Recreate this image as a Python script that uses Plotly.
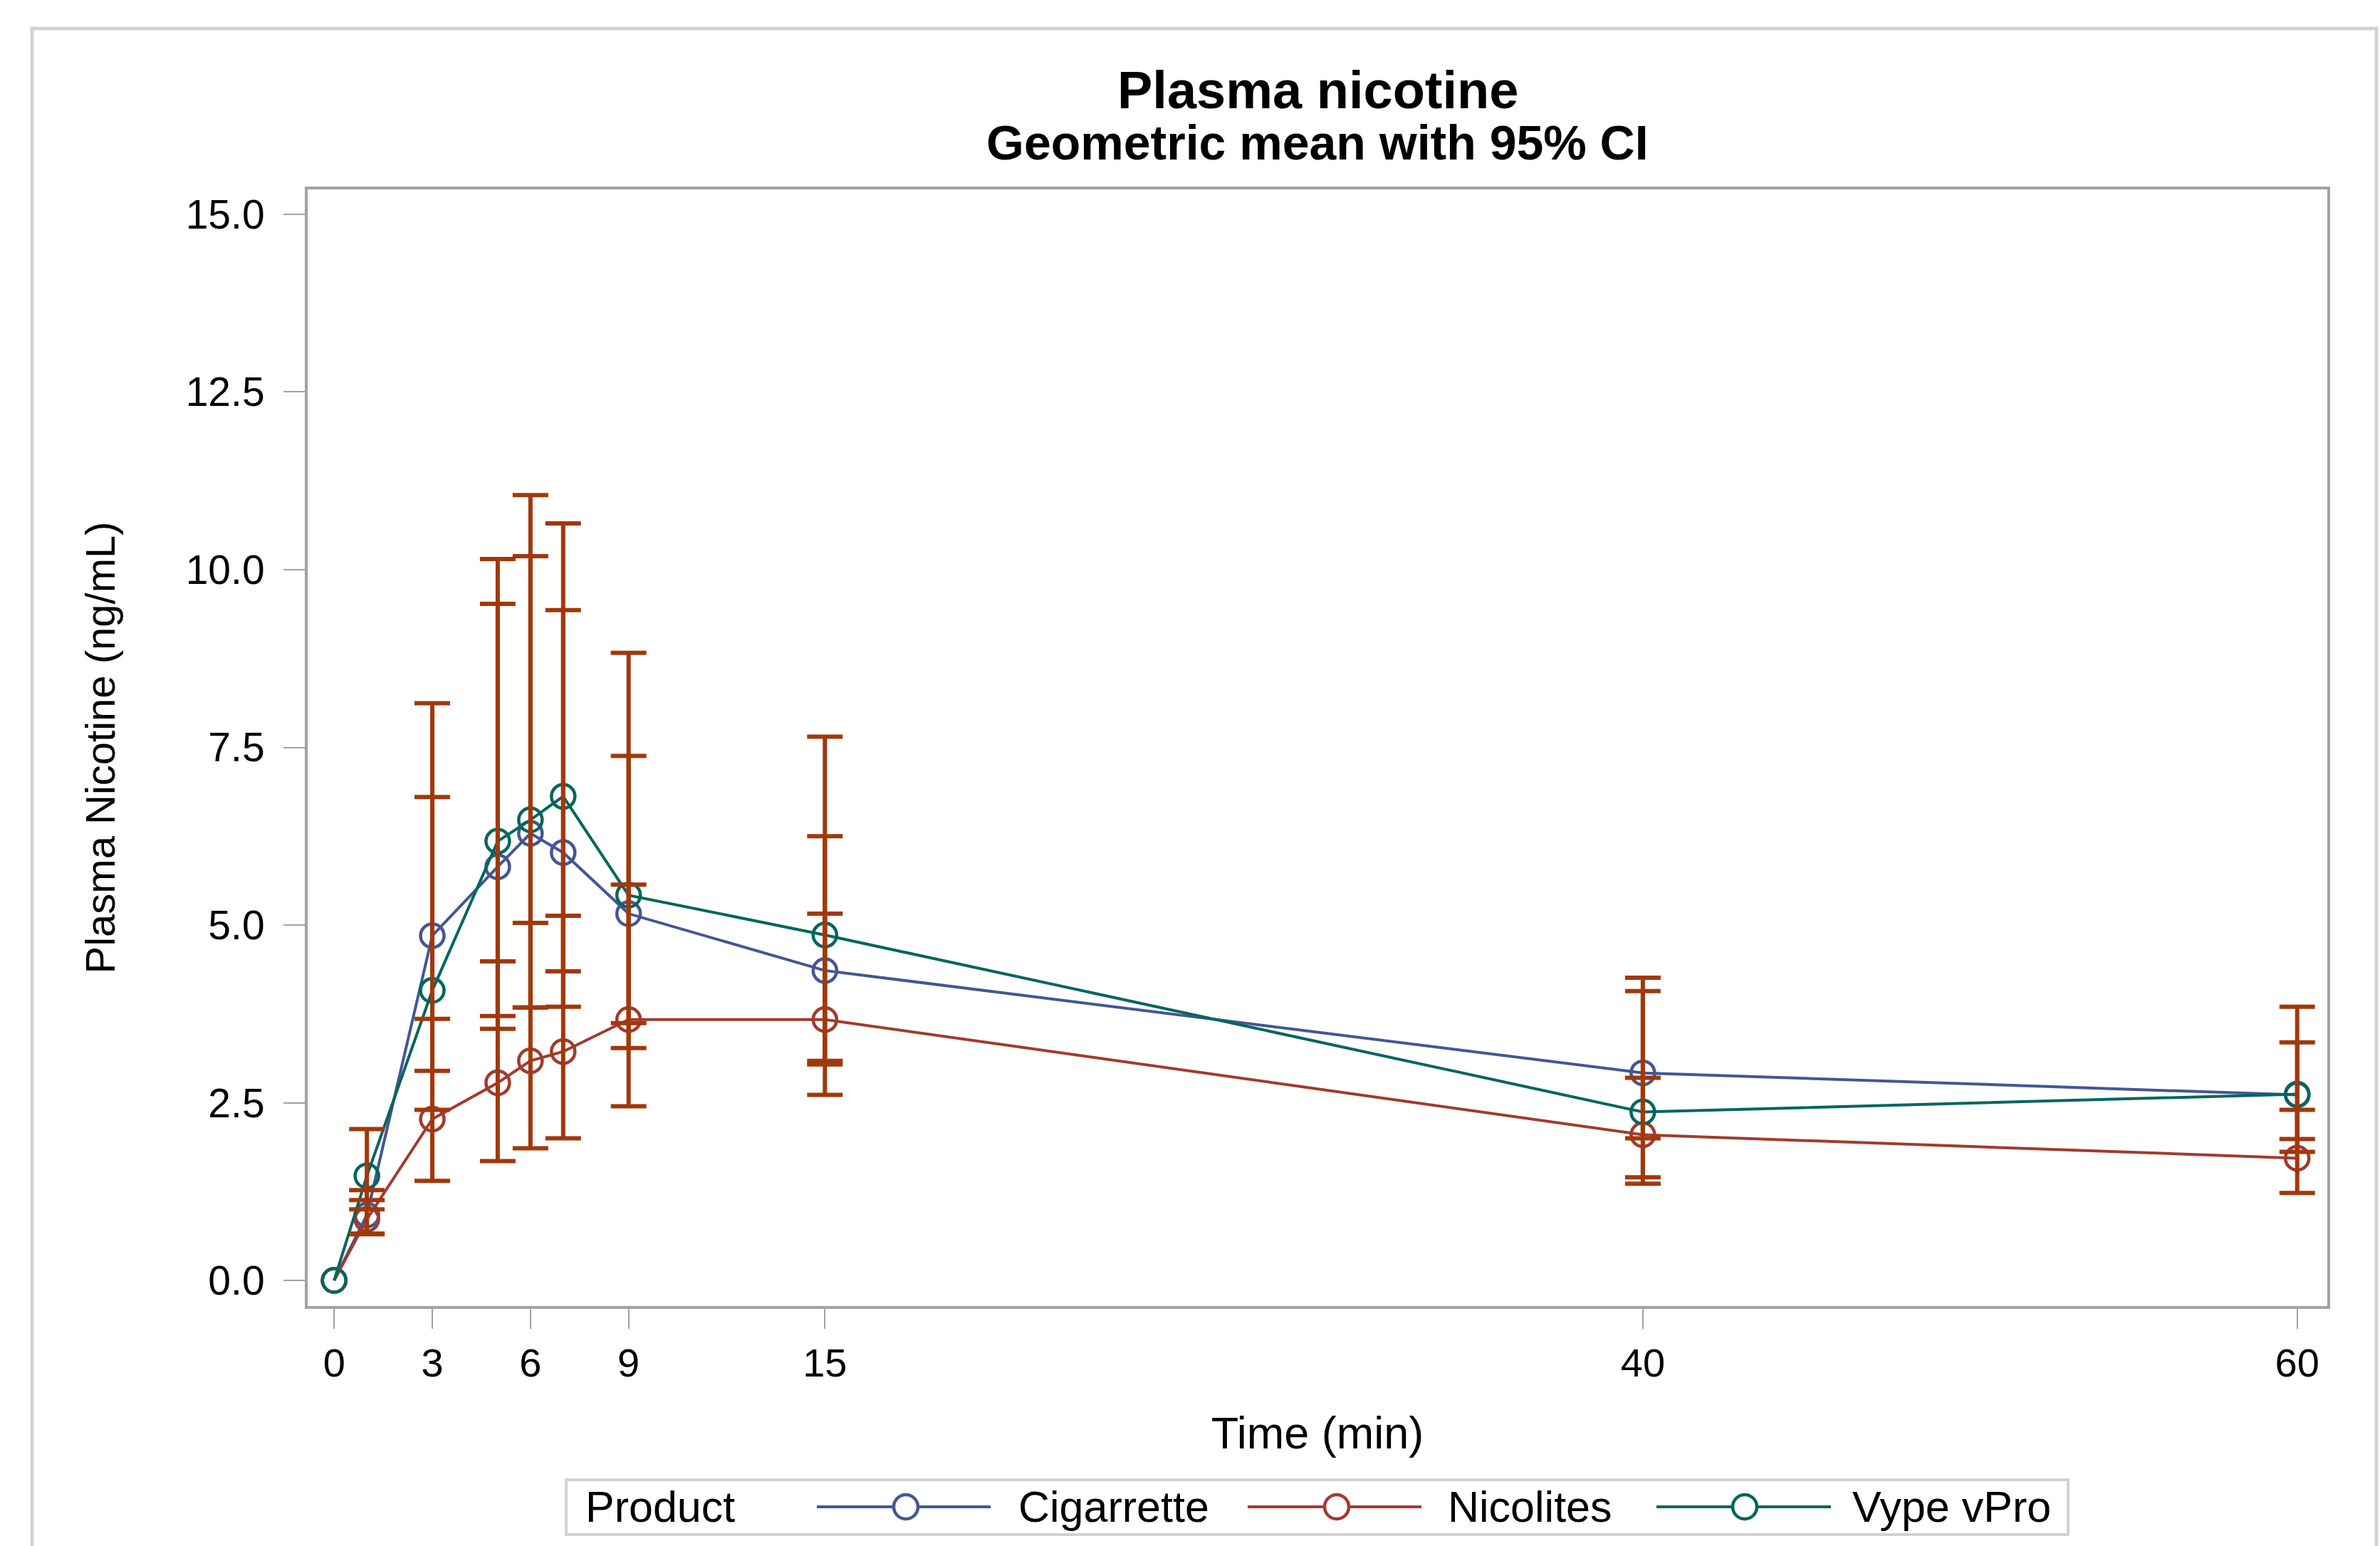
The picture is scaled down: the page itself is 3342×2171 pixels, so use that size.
import plotly.graph_objects as go

# ---------------- data ----------------
times = [0, 1, 3, 5, 6, 7, 9, 15, 40, 60]
x_tick_vals = [0, 3, 6, 9, 15, 40, 60]
y_tick_vals = [0.0, 2.5, 5.0, 7.5, 10.0, 12.5, 15.0]

products = ["Cigarrette", "Nicolites", "Vype vPro"]

cig_mean = [0, 0.92, 4.85, 5.82, 6.29, 6.02, 5.16, 4.36, 2.92, 2.61]
cig_upper = [None, 1.27, 8.12, 9.52, 10.19, 9.43, 7.38, 6.25, 4.26, 3.35]
cig_lower = [None, 0.66, 2.95, 3.54, 3.84, 3.85, 3.62, 3.04, 2.00, 1.99]

nic_mean = [0, 0.86, 2.27, 2.78, 3.09, 3.22, 3.67, 3.67, 2.05, 1.72]
nic_upper = [None, 1.13, 3.68, 4.49, 5.03, 5.13, 5.57, 5.16, 2.85, 2.40]
nic_lower = [None, 0.65, 1.40, 1.68, 1.86, 2.00, 2.45, 2.61, 1.45, 1.23]

vype_mean = [0, 1.47, 4.08, 6.18, 6.48, 6.81, 5.42, 4.86, 2.37, 2.62]
vype_upper = [None, 2.13, 6.80, 10.15, 11.05, 10.65, 8.83, 7.65, 4.07, 3.85]
vype_lower = [None, 1.00, 2.40, 3.72, 3.84, 4.35, 3.27, 3.09, 1.36, 1.81]

# ---------------- style ----------------
colors = ["#445694", "#A23A2E", "#01665E"]
err_color = "#A2380A"
axis_gray = "#9FA3A7"
frame_gray = "#D2D2D2"
FONT = "Liberation Sans, Arial, sans-serif"

W, H = 3342, 2171
PL, PR, PT, PB = 432, 3268, 266, 1834


def px(x):
    return (x - PL) / (PR - PL)


def py(y):
    return (PB - y) / (PB - PT)


fig = go.Figure()

series = [
    (products[0], cig_mean, cig_upper, cig_lower, colors[0]),
    (products[1], nic_mean, nic_upper, nic_lower, colors[1]),
    (products[2], vype_mean, vype_upper, vype_lower, colors[2]),
]

# lines + markers
for name, mean, up, lo, col in series:
    fig.add_trace(go.Scatter(
        x=times, y=mean, mode="lines+markers", name=name,
        line=dict(color=col, width=4),
        marker=dict(symbol="circle-open", size=33, color=col,
                    line=dict(color=col, width=4.5)),
        showlegend=False,
    ))

# error bars (drawn on top, same colour for all products)
for name, mean, up, lo, col in series:
    idx = [i for i in range(len(times)) if up[i] is not None]
    fig.add_trace(go.Scatter(
        x=[times[i] for i in idx], y=[mean[i] for i in idx],
        mode="markers", name=name + " 95% CI",
        marker=dict(size=1, color="rgba(0,0,0,0)"),
        error_y=dict(type="data", symmetric=False,
                     array=[up[i] - mean[i] for i in idx],
                     arrayminus=[mean[i] - lo[i] for i in idx],
                     color=err_color, thickness=6, width=25),
        showlegend=False, hoverinfo="skip",
    ))

shapes = []
annotations = []

# outer light-grey border
shapes.append(dict(type="rect", xref="paper", yref="paper",
                   x0=px(45), x1=px(3337), y0=py(2240), y1=py(40),
                   line=dict(color=frame_gray, width=5), layer="below"))

# titles
annotations.append(dict(text="<b>Plasma nicotine</b>", xref="paper", yref="paper",
                        x=0.5, y=py(126), xanchor="center", yanchor="middle",
                        showarrow=False, font=dict(family=FONT, size=74, color="black")))
annotations.append(dict(text="<b>Geometric mean with 95% CI</b>", xref="paper", yref="paper",
                        x=0.5, y=py(200), xanchor="center", yanchor="middle",
                        showarrow=False, font=dict(family=FONT, size=68, color="black")))

# manual legend
LY = 2116
shapes.append(dict(type="rect", xref="paper", yref="paper",
                   x0=px(795), x1=px(2904), y0=py(2155), y1=py(2078),
                   line=dict(color=frame_gray, width=4)))
annotations.append(dict(text="Product", xref="paper", yref="paper",
                        x=px(820), y=py(LY), xanchor="left", yanchor="middle",
                        showarrow=False, font=dict(family=FONT, size=61, color="black")))
leg_items = [(1147, 1391, 1272, 1428), (1752, 1996, 1877, 2031), (2326, 2571, 2450, 2599)]
for (lx0, lx1, mx, tx), name, col in zip(leg_items, products, colors):
    shapes.append(dict(type="line", xref="paper", yref="paper",
                       x0=px(lx0), x1=px(lx1), y0=py(LY), y1=py(LY),
                       line=dict(color=col, width=4)))
    r = 17
    shapes.append(dict(type="circle", xref="paper", yref="paper",
                       x0=px(mx - r), x1=px(mx + r), y0=py(LY + r), y1=py(LY - r),
                       fillcolor="white", line=dict(color=col, width=4.5)))
    annotations.append(dict(text=name, xref="paper", yref="paper",
                            x=px(tx), y=py(LY), xanchor="left", yanchor="middle",
                            showarrow=False, font=dict(family=FONT, size=61, color="black")))

fig.update_layout(
    width=W, height=H,
    margin=dict(l=PL, r=W - PR, t=PT, b=H - PB, pad=0),
    paper_bgcolor="white", plot_bgcolor="white",
    font=dict(family=FONT, color="black"),
    shapes=shapes, annotations=annotations,
    showlegend=False,
)

fig.update_xaxes(
    range=[-0.81, 60.92], tickmode="array", tickvals=x_tick_vals,
    ticktext=[str(v) for v in x_tick_vals],
    showgrid=False, zeroline=False,
    showline=True, linecolor=axis_gray, linewidth=4, mirror=True,
    ticks="outside", ticklen=28, tickwidth=2, tickcolor=axis_gray,
    tickfont=dict(family=FONT, size=56, color="black"),
    ticklabelstandoff=0,
    title=dict(text="Time (min)", font=dict(family=FONT, size=63, color="black"), standoff=47),
    automargin=False,
)
fig.update_yaxes(
    range=[-0.36, 15.35], tickmode="array", tickvals=y_tick_vals,
    ticktext=[f"{v:.1f}" for v in y_tick_vals],
    showgrid=False, zeroline=False,
    showline=True, linecolor=axis_gray, linewidth=4, mirror=True,
    ticks="outside", ticklen=30, tickwidth=2, tickcolor=axis_gray,
    tickfont=dict(family=FONT, size=57, color="black"),
    ticklabelstandoff=15,
    title=dict(text="Plasma Nicotine (ng/mL)", font=dict(family=FONT, size=58, color="black"), standoff=81),
    automargin=False,
)

fig.write_html("out.html",
               config={"displayModeBar": False},
               post_script="document.body.style.margin='0';document.body.style.overflow='hidden';")
